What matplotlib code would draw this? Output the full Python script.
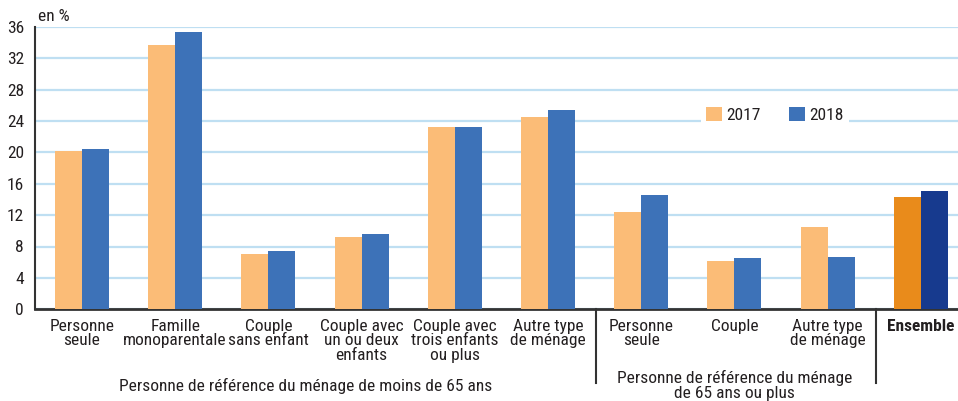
import numpy as np
import matplotlib.pyplot as plt
import matplotlib.transforms as mtransforms

plt.rcParams['font.family'] = ['Roboto Condensed', 'DejaVu Sans']

categories = ["Personne\nseule", "Famille\nmonoparentale", "Couple\nsans enfant",
              "Couple avec\nun ou deux\nenfants", "Couple avec\ntrois enfants\nou plus",
              "Autre type\nde ménage", "Personne\nseule", "Couple", "Autre type\nde ménage",
              "Ensemble"]
values_2017 = [20.2, 33.7, 7.0, 9.2, 23.2, 24.5, 12.4, 6.2, 10.5, 14.3]
values_2018 = [20.4, 35.3, 7.4, 9.6, 23.2, 25.4, 14.6, 6.5, 6.7, 15.1]
yticks = [0, 4, 8, 12, 16, 20, 24, 28, 32, 36]
group_labels = ["Personne de référence du ménage de moins de 65 ans",
                "Personne de référence du ménage\nde 65 ans ou plus"]

c17 = "#FBBC77"
c18 = "#3D72B8"
c17_all = "#E98B1B"
c18_all = "#173A8E"
txt = "#231F20"
fs = 12.5

fig = plt.figure(figsize=(9.58, 4.01), dpi=100)
ax = fig.add_axes([35 / 958, 1 - 309.3 / 401, 1 - 35 / 958, (309.3 - 26.7) / 401])

x = np.arange(len(categories))
w = 0.29
cols17 = [c17] * (len(x) - 1) + [c17_all]
cols18 = [c18] * (len(x) - 1) + [c18_all]
ax.bar(x - w / 2, values_2017, w, color=cols17, label="2017", zorder=3)
ax.bar(x + w / 2, values_2018, w, color=cols18, label="2018", zorder=3)

ax.set_xlim(-0.504, 9.40)
ax.set_ylim(0, 36)
ax.set_yticks(yticks)
ax.yaxis.grid(True, color="#BFDFF2", linewidth=1.6, zorder=0)
ax.set_axisbelow(True)
for s in ["top", "right"]:
    ax.spines[s].set_visible(False)
ax.spines["left"].set_color("#333333")
ax.spines["left"].set_linewidth(1.5)
ax.spines["bottom"].set_color("#333333")
ax.spines["bottom"].set_linewidth(2)

ax.set_xticks(x)
ax.set_xticklabels(categories, fontsize=fs, color=txt, linespacing=0.95, va="top")
ax.get_xticklabels()[-1].set_fontweight("bold")
ax.tick_params(axis="x", length=0, pad=7)
ax.tick_params(axis="y", length=0, pad=8, labelsize=fs, labelcolor=txt)

ax.text(0.003, 1.01, "en %", transform=ax.transAxes, fontsize=fs, color=txt,
        ha="left", va="bottom")

trans = mtransforms.blended_transform_factory(ax.transData, ax.transAxes)
for xs in [5.52, 8.52]:
    ax.plot([xs, xs], [0, -0.26], transform=trans, color="#333333", linewidth=1.5,
            clip_on=False)

ax.text(2.4, -0.27, group_labels[0], transform=trans, ha="center", va="center",
        fontsize=fs, color=txt)
ax.text(7.0, -0.27, group_labels[1], transform=trans, ha="center", va="center",
        fontsize=fs, color=txt, linespacing=0.95)

leg = ax.legend(loc="center", bbox_to_anchor=(775 / 958, 1 - 115 / 401),
                bbox_transform=fig.transFigure, ncol=2, frameon=True,
                fontsize=fs, handlelength=0.9, handleheight=0.9,
                handletextpad=0.3, columnspacing=1.6, borderpad=0.3)
leg.get_frame().set_facecolor("white")
leg.get_frame().set_edgecolor("none")
leg.get_frame().set_alpha(1)
for t in leg.get_texts():
    t.set_color(txt)

fig.savefig("out.png", dpi=100)
